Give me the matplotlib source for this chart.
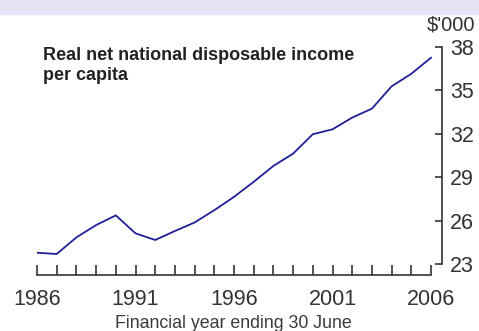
import numpy as np
import matplotlib.pyplot as plt
from matplotlib.patches import Rectangle

years = list(range(1986, 2007))
income = [23.78, 23.69, 24.84, 25.69, 26.36, 25.12, 24.66, 25.28, 25.87, 26.72,
          27.64, 28.68, 29.78, 30.63, 31.97, 32.31, 33.12, 33.74, 35.28, 36.15, 37.26]
y_ticks = [23, 26, 29, 32, 35, 38]
x_ticklabels = [1986, 1991, 1996, 2001, 2006]

plt.rcParams['font.family'] = ['Liberation Sans', 'DejaVu Sans']

W, H = 479, 331
fig = plt.figure(figsize=(W / 100, H / 100), dpi=100)

# lavender band on top
fig.patches.append(Rectangle((0, 1 - 14 / H), 1, 14 / H, transform=fig.transFigure,
                             color='#e4e4f4', zorder=0))

ax = fig.add_axes([37 / W, (H - 275) / H, (442 - 37) / W, (275 - 42) / H])
ax.plot(years, income, color='#1f1f99', linewidth=1.3)

ax.set_xlim(1986, 2006 + 11 / 19.7)
ax.set_ylim(23 - 11 / 14.47, 38 + 5 / 14.47)

for s in ['top', 'left']:
    ax.spines[s].set_visible(False)
ax.spines['bottom'].set_bounds(1986, 2006)
ax.spines['right'].set_bounds(23, 38)
for s in ['bottom', 'right']:
    ax.spines[s].set_color('#333333')
    ax.spines[s].set_linewidth(1.2)

ax.yaxis.tick_right()
ax.set_yticks(y_ticks)
ax.set_xticks(years)
ax.set_xticklabels([str(y) if y in x_ticklabels else '' for y in years])
ax.tick_params(axis='x', direction='in', length=7, width=1.2, color='#333333',
               labelsize=15.5, labelcolor='#333333', pad=10)
ax.tick_params(axis='y', direction='in', length=5, width=1.2, color='#333333',
               labelsize=15.5, labelcolor='#333333', pad=6)

ax.set_xlabel('Financial year ending 30 June', fontsize=12.8, color='#3a3a3a', labelpad=4)
ax.xaxis.label.set_x((233 - 37) / (442 - 37))

fig.text(475 / W, 1 - 25 / H, "$'000", fontsize=14.5, color='#333333', ha='right', va='center')
fig.text(43 / W, 1 - 47 / H, 'Real net national disposable income\nper capita',
         fontsize=13, fontweight='bold', color='#222222', ha='left', va='top', linespacing=1.25)

fig.savefig('out.png', dpi=100)
